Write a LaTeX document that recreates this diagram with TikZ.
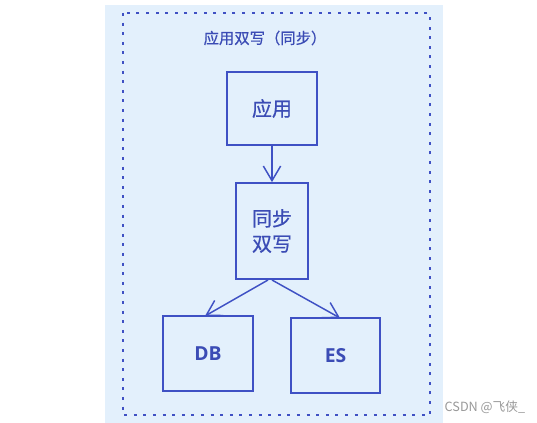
\documentclass[tikz,border=0pt]{standalone}
\usepackage{fontspec}
\setmainfont{Noto Sans CJK SC}
\newfontfamily\cjk[FakeBold=0.6]{Noto Sans CJK SC}
\newfontfamily\cjkplain{Noto Sans CJK SC}
\newfontfamily\latinsb{Open Sans}
\usetikzlibrary{arrows.meta}
\definecolor{bgblue}{HTML}{E3F0FC}
\definecolor{inkblue}{HTML}{3F51C4}
\definecolor{txtblue}{HTML}{3B4CB5}
\tikzset{
  sketchbox/.style={draw=inkblue, line width=1.3pt, fill=none, inner sep=0pt},
  boxtext/.style={text=txtblue, font=\cjk\fontsize{15}{19}\selectfont},
  latinbox/.style={text=txtblue, font=\latinsb\bfseries\fontsize{14.5}{18}\selectfont},
  conn/.style={draw=inkblue, line width=1.1pt, -{Straight Barb[length=11pt,width=13pt,line width=1.1pt]}},
}
\begin{document}
\begin{tikzpicture}[x=0.75pt,y=-0.75pt]
\useasboundingbox (0,0) rectangle (537,423);
\fill[white] (0,0) rectangle (537,423);
\fill[bgblue] (105,5) rectangle (443,423);
\draw[inkblue, line width=1.7pt, dash pattern=on 2.2pt off 5pt] (123,13) rectangle (430,415);
\node[text=txtblue, font=\cjk\fontsize{11.5}{14}\selectfont] (title) at (265,38) {应用双写（同步）};
\node[sketchbox, minimum width=67.5pt, minimum height=54.75pt] (app) at (272,108.5) {};
\node[boxtext] at (app) {应用};
\node[sketchbox, minimum width=54pt, minimum height=72pt] (sync) at (272,231) {};
\node[boxtext, align=left] at (sync) {同步\\双写};
\node[sketchbox, minimum width=67.5pt, minimum height=56.25pt] (db) at (208,353.5) {};
\node[latinbox] at (db) {DB};
\node[sketchbox, minimum width=66.75pt, minimum height=56.25pt] (es) at (335.5,355.5) {};
\node[latinbox] at (es) {ES};
\coordinate (s1) at (268,280);
\coordinate (s2) at (272,280);
\draw[conn] (app.south) -- (sync.north);
\draw[conn] (s1) -- (205,316);
\draw[conn] (s2) -- (340,318);
\node[text=gray!80, font=\cjkplain\fontsize{9.5}{11}\selectfont, anchor=west] (wm) at (440,407) {CSDN @飞侠\_};
\end{tikzpicture}
\end{document}
